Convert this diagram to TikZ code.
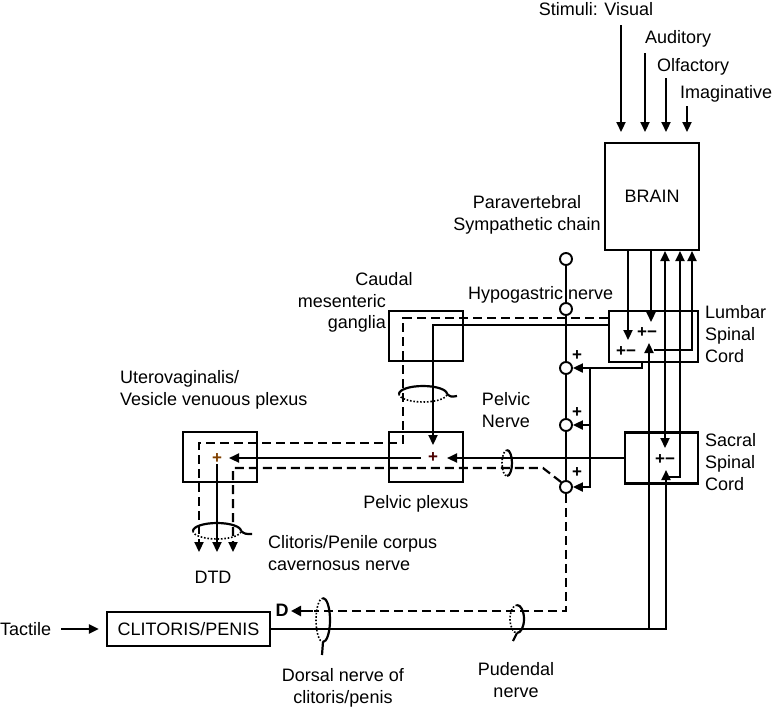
\documentclass[tikz,border=0pt]{standalone}
\usepackage{fontspec}
\setmainfont{Liberation Sans}
\usetikzlibrary{arrows.meta}
\begin{document}
\begin{tikzpicture}[x=1pt,y=-1pt,
  txt/.style={font=\fontsize{18}{22}\selectfont, inner sep=0pt},
  pm/.style={font=\fontsize{17}{17}\selectfont\bfseries, inner sep=0pt},
  bx/.style={draw, line width=2.2pt, inner sep=0pt},
  ln/.style={line width=2.2pt},
  dsh/.style={line width=2.2pt, dash pattern=on 9pt off 5pt},
  arr/.style={-{Triangle[length=10pt,width=9pt]}},
  dotln/.style={line width=1.6pt, dash pattern=on 1.6pt off 1.8pt},
  knot/.style={circle, draw, fill=white, line width=1.9pt, minimum size=12pt, inner sep=0pt}
]
\useasboundingbox (0,0) rectangle (776,710);

% boxes
\node[bx, minimum width=94pt, minimum height=107pt, txt] (brain) at (652,196.5) {BRAIN};
\node[bx, minimum width=89pt, minimum height=51pt] (lumbar) at (653.5,336.5) {};
\node[bx, minimum width=73pt, minimum height=51pt] (sacral) at (661.5,458) {};
\node[bx, minimum width=74pt, minimum height=50pt] (caudal) at (426,336) {};
\node[bx, minimum width=74pt, minimum height=50pt] (pplex) at (426,457) {};
\node[bx, minimum width=74pt, minimum height=50pt] (utero) at (220,457) {};
\node[bx, minimum width=163pt, minimum height=34pt, txt] (clit) at (188.5,629) {CLITORIS/PENIS};

% stimuli
\node[txt] (visual) at (596,9) {Stimuli: Visual};
\node[txt, anchor=west] (audit) at (645,39) {Auditory};
\node[txt, anchor=west] (olf) at (657,67) {Olfactory};
\node[txt, anchor=west] (imag) at (680,94) {Imaginative};
\draw[ln,arr] (621,25) -- (621,132);
\draw[ln,arr] (645,53) -- (645,132);
\draw[ln,arr] (666,78) -- (666,132);
\draw[ln,arr] (687,106) -- (687,132);

% brain <-> cords
\draw[ln,arr] (628,250) -- (628,340);
\draw[ln,arr] (651,250) -- (651,322);
\draw[ln,{Triangle[length=10pt,width=9pt]}-{Triangle[length=10pt,width=9pt]}] (665,448) -- (665,251);
\draw[ln,arr] (666,477) -- (680,477) -- (680,251);
\draw[ln,arr] (654,350) -- (692,350) -- (692,251);
\draw[ln,arr] (649,629) -- (649,343);
\draw[ln,arr] (666,629) -- (666,470);
\draw[ln] (clit.east) -- (667,629);

% sympathetic chain
\node[knot] (c0) at (566,259) {};
\node[knot] (c1) at (566,309) {};
\node[knot] (c2) at (566,368) {};
\node[knot] (c3) at (566,425) {};
\node[knot] (c4) at (566,487) {};
\draw[ln] (c0) -- (c1) -- (c2) -- (c3) -- (c4);
\draw[ln] (642,362) -- (642,368) -- (590,368) -- (590,488);
\draw[ln,arr] (590,368) -- (c2.east);
\draw[ln,arr] (590,425) -- (c3.east);
\draw[ln,arr] (590,487) -- (c4.east);
\node[pm] at (577,356) {+};
\node[pm] at (577,413) {+};
\node[pm] at (577,473) {+};

% lumbar to caudal / pelvic
\draw[dsh,arr] (lumbar.west |- 0,318) -- (403,318) -- (403,443) -- (199,443) -- (199,552);
\draw[ln,arr] (lumbar.west |- 0,325) -- (433,325) -- (433,445);
\draw[ln,arr] (sacral.west) -- (447,458);
\draw[ln,arr] (421,458) -- (229,458);
\draw[ln,arr] (217,464) -- (217,552);
\draw[dsh,arr] (c4.north west) -- (543,468) -- (233,468) -- (233,552);
\draw[dsh] (c4.south) -- (566,611) -- (314,611);
\draw[line width=2.8pt,-{Triangle[length=10pt,width=10pt]}] (313,611) -- (291,611);
\node[font=\fontsize{18}{18}\selectfont\bfseries, inner sep=0pt] (dlet) at (282,610) {D};

% plus/minus
\node[pm] at (647,333) {+−};
\node[pm] at (626,352) {+−};
\node[pm] at (665,460) {+−};
\node[pm, text=black!70!red] at (433,458) {+};
\node[pm, text=black!50!orange] at (217,459) {+};

% cuffs
\draw[ln] (399,394) arc[start angle=180,end angle=0,x radius=24pt,y radius=8pt];
\draw[dotln] (399,394) arc[start angle=180,end angle=360,x radius=24pt,y radius=8pt];
\draw[ln] (447,394) .. controls (451,397) .. (457,396);

\draw[ln] (193,531) arc[start angle=180,end angle=0,x radius=24pt,y radius=8pt];
\draw[dotln] (193,531) arc[start angle=180,end angle=360,x radius=24pt,y radius=8pt];
\draw[ln] (241,531) .. controls (245,534) .. (252,534);

\draw[ln] (507,450) arc[start angle=90,end angle=-90,x radius=5pt,y radius=13pt];
\draw[dotln] (507,450) arc[start angle=90,end angle=270,x radius=5pt,y radius=13pt];

\draw[ln] (323,598) arc[start angle=90,end angle=-90,x radius=7pt,y radius=22pt];
\draw[dotln] (323,598) arc[start angle=90,end angle=270,x radius=7pt,y radius=22pt];
\draw[ln] (323,642) -- (322,655);

\draw[ln] (517,605) arc[start angle=90,end angle=-90,x radius=7pt,y radius=14pt];
\draw[dotln] (517,605) arc[start angle=90,end angle=270,x radius=7pt,y radius=14pt];
\draw[ln] (517,633) -- (513,641);

% labels
\node[txt, align=center] (para) at (527,215) {Paravertebral\\Sympathetic chain};
\node[txt, anchor=west] (hypo) at (468,295) {Hypogastric nerve};
\node[txt] (cd1) at (384,279) {Caudal};
\node[txt, anchor=east] (cd2) at (386,301) {mesenteric};
\node[txt, anchor=east] (cd3) at (386,324) {ganglia};
\node[txt, anchor=west, align=left] (lumb) at (705,334) {Lumbar\\Spinal\\Cord};
\node[txt, anchor=west, align=left] (sacr) at (705,462) {Sacral\\Spinal\\Cord};
\node[txt, anchor=west, align=left] (uvl) at (120,390) {Uterovaginalis/\\Vesicle venuous plexus};
\node[txt, align=center] (pnl) at (506,410) {Pelvic\\Nerve};
\node[txt] (ppl) at (416,504) {Pelvic plexus};
\node[txt, anchor=west, align=left] (cpc) at (268,553) {Clitoris/Penile corpus\\cavernosus nerve};
\node[txt] (dtd) at (213,577) {DTD};
\node[txt, anchor=west] (tact) at (0,629) {Tactile};
\draw[ln,arr] ([xshift=10pt]tact.east) -- ([xshift=-7pt]clit.west);
\node[txt, align=center] (dors) at (343,688) {Dorsal nerve of\\clitoris/penis};
\node[txt, align=center] (pud) at (516,680) {Pudendal\\nerve};
\end{tikzpicture}
\end{document}
